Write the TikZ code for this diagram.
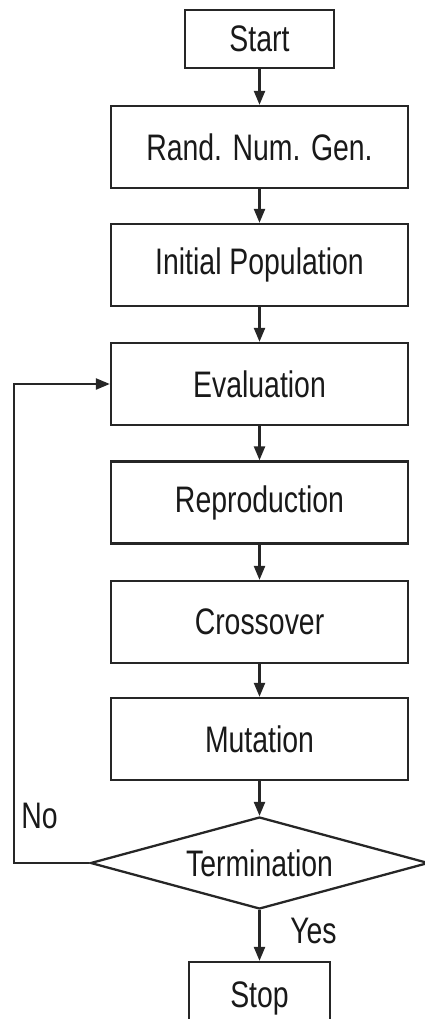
\documentclass[tikz,border=0pt]{standalone}
\usepackage{fontspec}
\usepackage{tikz}
\usetikzlibrary{shapes.geometric,arrows.meta}
\newfontfamily\flowfont[FakeStretch=0.77]{Liberation Sans}
\tikzset{
  procbox/.style={draw=black!85, line width=1.3pt, minimum width=5.94cm, minimum height=1.64cm, inner sep=0pt},
  endbox/.style={draw=black!85, line width=1.3pt, minimum height=1.16cm, inner sep=0pt},
  condbox/.style={draw=black!85, line width=1.3pt, diamond, aspect=3.67, minimum width=6.76cm, minimum height=1.84cm, inner sep=0pt},
  flowarrow/.style={draw=black!85, line width=1.3pt, -{Triangle[length=0.28cm,width=0.22cm]}},
  every node/.style={font=\flowfont\fontsize{21}{25}\selectfont, text=black!90}
}

\begin{document}
\begin{tikzpicture}
    \useasboundingbox (0,0) rectangle (8.48,-20.38);
    \node[endbox, minimum width=2.98cm] (start) at (5.19,-0.78) {Start};
    \foreach \nm/\yy/\txt in {rand/2.94/Rand. Num. Gen., init/5.30/Initial Population,
        eval/7.68/Evaluation, repro/10.05/Reproduction, cross/12.44/Crossover,
        mut/14.78/Mutation}
        \node[procbox] (\nm) at (5.19,-\yy) {\txt};
    \node[condbox] (cond) at (5.19,-17.26) {Termination};
    \node[endbox, minimum width=2.82cm, minimum height=1.44cm] (stop) at (5.19,-19.96) {Stop};

    \foreach \a/\b in {start/rand, rand/init, init/eval, eval/repro, repro/cross, cross/mut, mut/cond, cond/stop}
        \draw[flowarrow] (\a) -- (\b);

    % loop back when not terminated
    \coordinate (loop) at (0.28,-17.26);
    \draw[flowarrow] (cond.west) -- (loop) |- (eval.west);
    \node[anchor=base] (no) at (0.79,-16.56) {No};
    \node[anchor=base] (yes) at (6.27,-18.86) {Yes};
\end{tikzpicture}
\end{document}
